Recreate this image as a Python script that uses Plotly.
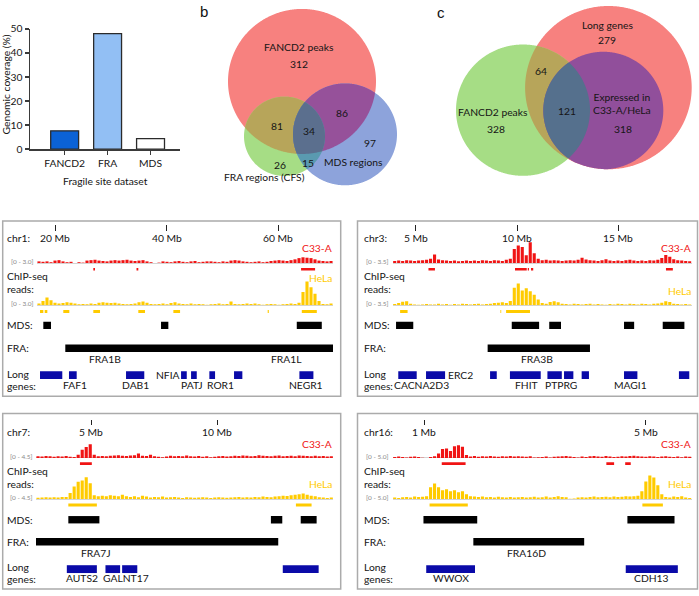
import math
import plotly.graph_objects as go

W, H = 699, 596
FONT = "Lato"
FS = 10.3
TXT = "#151515"

# ======================= DATA =======================
# (a) genomic coverage of fragile site datasets
A_CATEGORIES = ["FANCD2", "FRA", "MDS"]
A_COVERAGE = [7.6, 48.0, 4.3]
A_TICKS = [0, 10, 20, 30, 40, 50]

# (b) Venn: FANCD2 peaks / FRA regions (CFS) / MDS regions
B_SET_NAMES = ["FANCD2 peaks", "FRA regions (CFS)", "MDS regions"]
B_REGIONS = ["F", "F&R", "F&R&M", "F&M", "M", "R", "R&M"]
B_COUNTS = [312, 81, 34, 86, 97, 26, 15]

# (c) Venn: Long genes / FANCD2 peaks / Expressed in C33-A/HeLa
C_SET_NAMES = ["Long genes", "FANCD2 peaks", "Expressed in<br>C33-A/HeLa"]
C_REGIONS = ["L", "L&F", "F", "L&F&E", "L&E"]
C_COUNTS = [279, 64, 328, 121, 318]

# (d) genome browser loci (positions in Mb)
CHR1_RANGE = [16.77, 69.8]
CHR1_TICKS = [20, 40, 60]
CHR1_SCALE = 3.0
CHR1_C33A = [0.2, 0.15, 0.2, 0.1, 0.3, 0.35, 0.2, 0.1, 0.15, 0, 0.1, 0.05, 0.3, 0.35, 0.4, 0.3, 0.25, 0.2, 0.3, 0.35,
             0.3, 0.35, 0.4, 0.3, 0.25, 0.3, 0.35, 0.2, 0.1, 0, 0.05, 0.2, 0.15, 0.1, 0.2, 0.25, 0.15, 0.1, 0.2, 0.25,
             0.1, 0.15, 0.2, 0.2, 0.15, 0.1, 0.2, 0.15, 0.3, 0.35, 0.3, 0.2, 0.15, 0.1, 0.15, 0.2, 0.1, 0.15, 0.25, 0.3,
             0.35, 0.3, 0.25, 0.35, 0.45, 0.6, 0.7, 0.65, 0.6, 0.45, 0.3, 0.25, 0.2, 0.25]
CHR1_HELA = [0.2, 0.5, 0.95, 0.6, 0.3, 0.2, 0.25, 0.35, 0.3, 0.2, 0.1, 0.15, 0.1, 0.2, 0.15, 0.3, 0.35, 0.3, 0.25, 0.3,
             0.2, 0.15, 0.1, 0.15, 0.2, 0.35, 0.45, 0.3, 0.15, 0.1, 0.15, 0.2, 0.1, 0.25, 0.35, 0.2, 0.15, 0.1, 0.2, 0.1,
             0.15, 0.1, 0.05, 0.1, 0.15, 0.2, 0.1, 0.15, 0.45, 0.15, 0.1, 0.15, 0.2, 0.15, 0.2, 0.1, 0.05, 0.1, 0.15, 0.1,
             0.05, 0.1, 0.15, 0.2, 0.15, 0.3, 1.6, 2.9, 2.2, 1.4, 0.5, 0.15, 0.1, 0.2]
CHR1_C33A_PEAKS = [(26.86, 27.16), (34.6, 34.92), (64.08, 66.59)]
CHR1_HELA_PEAKS = [(17.31, 17.9), (18.15, 18.62), (21.48, 22.56), (26.86, 28.06), (34.92, 36.12), (41.2, 42.4),
                   (58.1, 58.3), (64.21, 66.9)]
CHR1_MDS = [(17.9, 19.28), (38.99, 40.3), (63.31, 67.79)]
CHR1_FRA = [(21.84, 69.8)]
CHR1_FRA_LABELS = [("FRA1B", 28.96), ("FRA1L", 61.4)]
CHR1_GENES = [(17.31, 21.3), (22.5, 23.88), (32.72, 35.99), (42.58, 43.6), (44.37, 45.39), (47.65, 48.67),
              (52.07, 53.56), (63.78, 66.29)]
CHR1_GENE_LABELS = [("FAF1", 23.58), ("DAB1", 34.33), ("PATJ", 44.5), ("ROR1", 49.69), ("NEGR1", 64.98)]
CHR1_INLINE_LABELS = [("NFIA", 40.25)]

CHR3_RANGE = [3.865, 18.62]
CHR3_TICKS = [5, 10, 15]
CHR3_SCALE = 3.5
CHR3_C33A = [0.3, 0.35, 0.3, 0.4, 0.35, 0.3, 0.35, 0.4, 0.45, 0.6, 1.2, 0.5, 0.4, 0.35, 0.3, 0.35, 0.25, 0.3, 0.35, 0.3,
             0.35, 0.3, 0.4, 0.35, 0.3, 0.4, 0.35, 0.3, 0.45, 0.6, 2.0, 2.5, 2.3, 1.1, 2.95, 1.4, 0.6, 0.4, 0.45, 0.35,
             0.4, 0.35, 0.3, 0.35, 0.4, 0.35, 0.45, 0.75, 0.5, 0.4, 0.35, 0.3, 0.4, 0.55, 0.35, 0.3, 0.35, 0.3, 0.4, 0.45,
             0.35, 0.3, 0.35, 0.3, 0.4, 0.35, 0.45, 0.7, 1.15, 0.9, 0.55, 0.4, 0.35, 0.3, 0.25]
CHR3_HELA = [0.15, 0.3, 0.5, 0.55, 0.2, 0.1, 0.05, 0.1, 0.15, 0.1, 0.1, 0.2, 0.1, 0.15, 0.05, 0.15, 0.1, 0.2, 0.15, 0.1,
             0.15, 0.2, 0.1, 0.15, 0.2, 0.3, 0.35, 0.4, 0.3, 0.6, 2.5, 3.1, 2.1, 2.4, 2.0, 1.5, 0.8, 0.3, 0.2, 0.45,
             0.55, 0.4, 0.2, 0.15, 0.1, 0.2, 0.15, 0.1, 0.15, 0.2, 0.1, 0.15, 0.1, 0.05, 0.15, 0.1, 0.2, 0.15, 0.1, 0.2,
             0.15, 0.1, 0.2, 0.15, 0.1, 0.2, 0.25, 0.35, 0.55, 0.45, 0.2, 0.15, 0.1, 0.15, 0.1]
CHR3_C33A_PEAKS = [(5.63, 5.95), (9.9, 10.48), (10.53, 10.59), (10.69, 10.8), (17.35, 17.69)]
CHR3_HELA_PEAKS = [(4.23, 4.6), (9.18, 9.22), (9.46, 10.64)]
CHR3_MDS = [(4.03, 4.88), (9.74, 11.09), (11.59, 12.17), (15.28, 15.78), (17.19, 18.26)]
CHR3_FRA = [(8.55, 13.6)]
CHR3_FRA_LABELS = [("FRA3B", 10.97)]
CHR3_GENES = [(4.14, 5.05), (5.51, 6.45), (8.67, 9.0), (9.65, 11.17), (11.5, 12.21), (12.32, 12.78), (13.19, 13.55),
              (15.28, 15.94), (17.99, 18.5)]
CHR3_GENE_LABELS = [("CACNA2D3", 5.31), ("FHIT", 10.48), ("PTPRG", 12.19), ("MAGI1", 15.59)]
CHR3_INLINE_LABELS = [("ERC2", 7.2)]

CHR7_RANGE = [2.82, 14.59]
CHR7_TICKS = [5, 10]
CHR7_SCALE = 4.5
CHR7_C33A = [0.3, 0.25, 0.35, 0.3, 0.2, 0.3, 0.25, 0.35, 0.2, 0.15, 0.6, 1.5, 2.0, 2.5, 0.6,
             0.3, 0.35, 0.3, 0.4, 0.45, 0.5, 0.4, 0.35, 0.45, 0.5, 0.8, 0.4, 0.35, 0.6, 0.3, 0.2, 0.1, 0.25, 0.4, 0.3,
             0.35, 0.3, 0.45, 0.3, 0.25, 0.35, 0.2, 0.3, 0.1, 0.2, 0.3, 0.35, 0.25, 0.3, 0.4, 0.35, 0.45, 0.4, 0.3, 0.35,
             0.5, 0.4, 0.35, 0.3, 0.4, 0.45, 0.3, 0.35, 0.4, 0.3, 0.45, 0.4, 0.35, 0.3, 0.4, 0.3, 0.35, 0.25, 0.3]
CHR7_HELA = [0.25, 0.3, 0.35, 0.3, 0.35, 0.3, 0.4, 0.4, 1.1, 2.3, 3.2, 3.4, 4.0, 2.9, 0.7,
             0.5, 0.6, 0.5, 0.7, 0.6, 0.5, 0.8, 0.5, 0.4, 0.5, 0.35, 0.6, 0.45, 0.3, 0.4, 0.35, 0.45, 0.3, 0.35, 0.4,
             0.3, 0.2, 0.35, 0.3, 0.25, 0.3, 0.35, 0.3, 0.2, 0.3, 0.35, 0.3, 0.25, 0.3, 0.35, 0.4, 0.3, 0.35, 0.3, 0.4,
             0.35, 0.45, 0.4, 0.35, 0.45, 0.5, 0.6, 0.55, 0.7, 0.8, 0.9, 1.0, 0.8, 0.6, 0.5, 0.35, 0.3, 0.2, 0.3]
CHR7_C33A_PEAKS = [(4.56, 5.03)]
CHR7_HELA_PEAKS = [(4.1, 5.23), (13.11, 13.73)]
CHR7_MDS = [(4.1, 5.33), (12.12, 12.57), (13.3, 13.93)]
CHR7_FRA = [(2.82, 12.41)]
CHR7_FRA_LABELS = [("FRA7J", 5.19)]
CHR7_GENES = [(4.04, 5.23), (5.57, 6.15), (6.23, 6.83), (12.59, 14.01)]
CHR7_GENE_LABELS = [("AUTS2", 4.63), ("GALNT17", 6.37)]
CHR7_INLINE_LABELS = []

CHR16_RANGE = [0.435, 5.83]
CHR16_TICKS = [1, 5]
CHR16_SCALE = 5.0
CHR16_C33A = [0.2, 0.3, 0.2, 0.1, 0.25, 0.3, 0.2, 0.05, 0, 0.2, 0.35, 0.9, 1.8, 1.9, 1.4, 2.4, 2.6, 2.3, 0.6,
              0.3, 0.4, 0.25, 0.35, 0.3, 0.4, 0.3, 0.25, 0.35, 0.3, 0.4, 0.3, 0.35, 0.3, 0.25, 0.35, 0.1, 0.15,
              0.2, 0.3, 0.1, 0.25, 0.3, 0.35, 0.4, 0.3, 0.2, 0.1, 0.3, 0.2, 0.35, 0.4, 0.3, 0.25, 0.4, 0.3, 0.2, 0.25,
              0.35, 0.3, 0.4, 0.45, 0.35, 0.3, 0.25, 0.35, 0.3, 0.2, 0.3, 0.35, 0.25, 0.2, 0.3, 0.15, 0.3, 0.25]
CHR16_HELA = [0.3, 0.2, 0.35, 0.4, 0.3, 0.5, 0.4, 0.45, 0.6, 2.4, 3.2, 2.4, 1.8, 2.0, 1.6, 1.8, 1.4, 1.6, 1.0, 0.6,
              0.5, 0.4, 0.5, 0.35, 0.4, 0.3, 0.45, 0.35, 0.3, 0.4, 0.3, 0.35, 0.4, 0.3, 0.35, 0.45, 0.3, 0.35, 0.5, 0.3,
              0.4, 0.6, 0.4, 0.35, 0.05, 0.1, 0.3, 0.35, 0.3, 0.4, 0.5, 0.35, 0.4, 0.45, 0.35, 0.5, 0.4, 0.45, 0.6, 0.5,
              0.55, 0.7, 1.6, 3.6, 4.8, 4.4, 2.8, 1.0, 0.4, 0.3, 0.5, 0.4, 0.6, 0.3, 0.2]
CHR16_C33A_PEAKS = [(1.32, 1.75), (4.29, 4.43), (4.63, 4.73)]
CHR16_HELA_PEAKS = [(1.1, 1.79), (4.94, 5.31)]
CHR16_MDS = [(0.99, 1.96), (4.67, 5.52)]
CHR16_FRA = [(1.89, 3.89)]
CHR16_FRA_LABELS = [("FRA16D", 2.85)]
CHR16_GENES = [(1.04, 1.92), (4.64, 5.58)]
CHR16_GENE_LABELS = [("WWOX", 1.48), ("CDH13", 5.11)]
CHR16_INLINE_LABELS = []

LOCI = [
    dict(chrom="chr1:", rng=CHR1_RANGE, ticks=CHR1_TICKS, scale=CHR1_SCALE, c33=CHR1_C33A, hela=CHR1_HELA,
         red=CHR1_C33A_PEAKS, yel=CHR1_HELA_PEAKS, mds=CHR1_MDS, fra=CHR1_FRA, fra_labels=CHR1_FRA_LABELS,
         genes=CHR1_GENES, gene_labels=CHR1_GENE_LABELS, inline=CHR1_INLINE_LABELS),
    dict(chrom="chr3:", rng=CHR3_RANGE, ticks=CHR3_TICKS, scale=CHR3_SCALE, c33=CHR3_C33A, hela=CHR3_HELA,
         red=CHR3_C33A_PEAKS, yel=CHR3_HELA_PEAKS, mds=CHR3_MDS, fra=CHR3_FRA, fra_labels=CHR3_FRA_LABELS,
         genes=CHR3_GENES, gene_labels=CHR3_GENE_LABELS, inline=CHR3_INLINE_LABELS),
    dict(chrom="chr7:", rng=CHR7_RANGE, ticks=CHR7_TICKS, scale=CHR7_SCALE, c33=CHR7_C33A, hela=CHR7_HELA,
         red=CHR7_C33A_PEAKS, yel=CHR7_HELA_PEAKS, mds=CHR7_MDS, fra=CHR7_FRA, fra_labels=CHR7_FRA_LABELS,
         genes=CHR7_GENES, gene_labels=CHR7_GENE_LABELS, inline=CHR7_INLINE_LABELS),
    dict(chrom="chr16:", rng=CHR16_RANGE, ticks=CHR16_TICKS, scale=CHR16_SCALE, c33=CHR16_C33A, hela=CHR16_HELA,
         red=CHR16_C33A_PEAKS, yel=CHR16_HELA_PEAKS, mds=CHR16_MDS, fra=CHR16_FRA, fra_labels=CHR16_FRA_LABELS,
         genes=CHR16_GENES, gene_labels=CHR16_GENE_LABELS, inline=CHR16_INLINE_LABELS),
]

# ======================= LAYOUT / STYLE =======================
A_COLORS = ["#0B62D6", "#92BFF4", "#FFFFFF"]
RED_V, GREEN_V, BLUE_V = "#F7817F", "#A6DD85", "#8DA3DB"
RG_V, RB_V, GB_V, RGB_V = "#B7A55A", "#96519A", "#5A9AB0", "#5B6F8E"
C_PURPLE, C_SLATE = "#914F9B", "#55708D"
TRACK_RED, TRACK_YEL, GENE_BLUE = "#F01414", "#FFCB00", "#0A0AA8"

TOP_ROWS = dict(tick=2.7, ticklen=6, ticklabel=17.4, c33=27.4, red_base=43.0, red_bar=49.4, chip=56.7, reads=70,
                yel_base=86.0, yel_bar=92.4, mds=106.7, fra=130.0, fra_label=141.4, long=156.4, gene_bar=157.4,
                genes=169.0, gene_label=167.7)
BOT_ROWS = dict(tick=5.7, ticklen=5, ticklabel=18.3, c33=31.0, red_base=45.2, red_bar=51.0, chip=58.3, reads=71.7,
                yel_base=87.2, yel_bar=93.3, mds=108.3, fra=130.7, fra_label=142.3, long=156.3, gene_bar=158.7,
                genes=168.3, gene_label=167.3)
BOXES = [
    dict(x0=2.7, x1=340.7, y0=219.3, y1=398.3, tx0=37.0, tx1=333.0, text_x=4.5, rows=TOP_ROWS, hela_y=58.4),
    dict(x0=357.5, x1=697.5, y0=219.3, y1=398.3, tx0=392.7, tx1=691.7, text_x=362.0, rows=TOP_ROWS, hela_y=71.7),
    dict(x0=2.7, x1=340.7, y0=416.0, y1=595.0, tx0=36.0, tx1=333.3, text_x=4.5, rows=BOT_ROWS, hela_y=71.7),
    dict(x0=357.5, x1=697.5, y0=416.0, y1=595.0, tx0=392.7, tx1=691.7, text_x=362.0, rows=BOT_ROWS, hela_y=71.7),
]
TRACK_H = 25.0


def px2x(px):
    return px / W


def py2y(py):
    return 1 - py / H


fig = go.Figure()
annotations = []
shapes = []
layout = dict(width=W, height=H, margin=dict(l=0, r=0, t=0, b=0, pad=0), autosize=False, paper_bgcolor="white",
              plot_bgcolor="rgba(0,0,0,0)", showlegend=False, barmode="overlay", hovermode=False,
              font=dict(family=FONT, size=FS, color=TXT))


def hidden_axis(**kw):
    d = dict(visible=False, showgrid=False, zeroline=False, fixedrange=True)
    d.update(kw)
    return d


def txt(x, y, s, size=FS, color=TXT, xanchor="center", xref="x", yref="y", family=FONT, angle=0):
    annotations.append(dict(x=x, y=y, text=s, showarrow=False, xanchor=xanchor, yanchor="middle", xref=xref,
                            yref=yref, textangle=angle, font=dict(family=family, size=size, color=color)))


# overlay pixel axis (whole figure)
layout["xaxis"] = hidden_axis(domain=[0, 1], range=[0, W])
layout["yaxis"] = hidden_axis(domain=[0, 1], range=[H, 0])
fig.add_trace(go.Scatter(x=[0], y=[0], mode="markers", marker=dict(opacity=0), xaxis="x", yaxis="y",
                         hoverinfo="skip"))

# panel letters
for letter, (lx, ly) in zip("abcd", [(-1, 6), (198, 6), (435, 7), (-1, 205)]):
    txt(lx, ly, letter, size=15, xanchor="left", family="Liberation Sans", color="#111")

# ---------------- panel a ----------------
AX_COL = "#3a3a3a"
layout["xaxis2"] = dict(domain=[px2x(30), px2x(180)], range=[-0.807, 2.686], anchor="y2", showline=True,
                        linecolor=AX_COL, linewidth=1.5, ticks="outside", ticklen=4, tickwidth=1.5,
                        tickcolor=AX_COL, showgrid=False, zeroline=False, fixedrange=True,
                        tickfont=dict(family=FONT, size=FS, color=TXT))
layout["yaxis2"] = dict(domain=[py2y(146), py2y(23.3)], range=[0, 50], anchor="x2", tickvals=A_TICKS,
                        showline=True, linecolor=AX_COL, linewidth=1.5, ticks="outside", ticklen=4,
                        tickwidth=1.5, tickcolor=AX_COL, showgrid=False, zeroline=False, fixedrange=True,
                        tickfont=dict(family=FONT, size=FS, color=TXT))
fig.add_trace(go.Bar(x=A_CATEGORIES, y=A_COVERAGE, width=0.65, xaxis="x2", yaxis="y2", hoverinfo="skip",
                     marker=dict(color=A_COLORS, line=dict(color="#2b2b2b", width=1.3))))
txt(105, 179, "Fragile site dataset")
txt(6, 80, "Genomic coverage (%)", angle=-90)


# ---------------- Venn helpers ----------------
def venn_region(circles, n=720):
    pts = []
    for i, (cx, cy, r) in enumerate(circles):
        for k in range(n):
            t = 2 * math.pi * k / n
            x, y = cx + r * math.cos(t), cy + r * math.sin(t)
            if all((x - ox) ** 2 + (y - oy) ** 2 <= orr ** 2 + 1e-6
                   for j, (ox, oy, orr) in enumerate(circles) if j != i):
                pts.append((x, y))
    mx = sum(p[0] for p in pts) / len(pts)
    my = sum(p[1] for p in pts) / len(pts)
    pts.sort(key=lambda p: math.atan2(p[1] - my, p[0] - mx))
    return "M " + " L ".join(f"{x:.2f},{y:.2f}" for x, y in pts) + " Z"


def add_region(circles, color):
    shapes.append(dict(type="path", path=venn_region(circles), xref="x", yref="y", fillcolor=color,
                       line=dict(width=0), layer="below"))


# ---------------- panel b ----------------
B_F = (302, 77, 74)
B_R = (284.5, 133, 40.5)
B_M = (345, 131, 52)
add_region([B_F], RED_V)
add_region([B_R], GREEN_V)
add_region([B_M], BLUE_V)
add_region([B_F, B_R], RG_V)
add_region([B_F, B_M], RB_V)
add_region([B_R, B_M], GB_V)
add_region([B_F, B_R, B_M], RGB_V)
B_POS = {"F": (299, 59.3), "F&R": (276.7, 122.7), "F&R&M": (309, 127.7), "F&M": (342.3, 109.3),
         "M": (370, 139.3), "R": (280, 162.3), "R&M": (308.3, 160)}
for reg, cnt in zip(B_REGIONS, B_COUNTS):
    txt(*B_POS[reg], str(cnt))
for name, pos in zip(B_SET_NAMES, [(299, 41.7), (264, 175), (353.3, 159.3)]):
    txt(*pos, name)

# ---------------- panel c ----------------
C_L = (608.4, 83.3, 83.3)
C_F = (523, 106.3, 67)
C_E = (603.3, 106.7, 60)
add_region([C_L], RED_V)
add_region([C_F], GREEN_V)
add_region([C_L, C_F], RG_V)
add_region([C_E, C_L], C_PURPLE)
add_region([C_E, C_F], C_SLATE)
C_POS = {"L": (606.7, 35), "L&F": (540.7, 66), "F": (496, 126), "L&F&E": (566.7, 106.7), "L&E": (622.7, 126)}
for reg, cnt in zip(C_REGIONS, C_COUNTS):
    txt(*C_POS[reg], str(cnt))
txt(607.3, 19, C_SET_NAMES[0])
txt(492.5, 108.3, C_SET_NAMES[1])
txt(622.3, 100, C_SET_NAMES[2])


# ---------------- panel d ----------------
def add_intervals(ivs, row, thick, color, xa, ya):
    if not ivs:
        return
    fig.add_trace(go.Bar(orientation="h", base=[a for a, b in ivs], x=[b - a for a, b in ivs],
                         y=[row] * len(ivs), width=thick, marker=dict(color=color, line=dict(width=0)),
                         xaxis=xa, yaxis=ya, hoverinfo="skip"))


def add_signal(values, rng, color, xa, ya):
    n = len(values)
    bw = (rng[1] - rng[0]) / n
    centers = [rng[0] + bw * (i + 0.5) for i in range(n)]
    fig.add_trace(go.Bar(x=centers, y=values, width=bw * 0.78, marker=dict(color=color, line=dict(width=0)),
                         xaxis=xa, yaxis=ya, hoverinfo="skip"))


for bi, (box, L) in enumerate(zip(BOXES, LOCI)):
    n = 3 + bi
    xa, ya = f"x{n}", f"y{n}"
    yr, yy = 7 + 2 * bi, 8 + 2 * bi
    R = box["rows"]
    top = box["y0"]
    bh = box["y1"] - box["y0"]
    layout[f"xaxis{n}"] = dict(domain=[px2x(box["tx0"]), px2x(box["tx1"])], range=L["rng"], anchor="free",
                               position=py2y(top + R["tick"]), side="bottom", showline=False, showgrid=False,
                               zeroline=False, ticks="outside", ticklen=R["ticklen"], tickwidth=1,
                               tickcolor="#222", tickvals=L["ticks"], showticklabels=False, fixedrange=True)
    layout[f"yaxis{n}"] = hidden_axis(domain=[py2y(box["y1"]), py2y(top)], range=[bh, 0], anchor=xa)
    for yid, base in ((yr, R["red_base"]), (yy, R["yel_base"])):
        layout[f"yaxis{yid}"] = dict(domain=[py2y(top + base), py2y(top + base - TRACK_H)],
                                     range=[0, L["scale"]], anchor=xa, showgrid=False, showline=False,
                                     showticklabels=False, ticks="", zeroline=True, zerolinecolor="#d4d4d4",
                                     zerolinewidth=1, fixedrange=True)
    shapes.append(dict(type="rect", xref="paper", yref="paper", x0=px2x(box["x0"]), x1=px2x(box["x1"]),
                       y0=py2y(box["y1"]), y1=py2y(box["y0"]), line=dict(color="#ABABAB", width=1.5),
                       fillcolor="rgba(0,0,0,0)", layer="below"))

    add_signal(L["c33"], L["rng"], TRACK_RED, xa, f"y{yr}")
    add_signal(L["hela"], L["rng"], TRACK_YEL, xa, f"y{yy}")
    add_intervals(L["red"], R["red_bar"], 2.7, TRACK_RED, xa, ya)
    add_intervals(L["yel"], R["yel_bar"], 3.0, TRACK_YEL, xa, ya)
    add_intervals(L["mds"], R["mds"], 7.5, "#000000", xa, ya)
    add_intervals(L["fra"], R["fra"], 7.7, "#000000", xa, ya)
    add_intervals(L["genes"], R["gene_bar"], 8.0, GENE_BLUE, xa, ya)

    # text
    tx = box["text_x"]
    txt(tx, top + R["ticklabel"], L["chrom"], xanchor="left")
    for t in L["ticks"]:
        txt(t, py2y(top + R["ticklabel"]), f"{t} Mb", xref=xa, yref="paper")
    txt(box["tx1"] + 1, top + R["c33"], "C33-A", color=TRACK_RED, xanchor="right")
    txt(box["tx1"] + 1, top + box["hela_y"], "HeLa", color=TRACK_YEL, xanchor="right")
    scale_lbl = f"[0 - {L['scale']:.1f}]"
    txt(box["tx0"] - 1.5, top + R["red_base"] - 1.5, scale_lbl, size=6.5, color="#8a8a8a", xanchor="right")
    txt(box["tx0"] - 1.5, top + R["yel_base"] - 1.5, scale_lbl, size=6.5, color="#8a8a8a", xanchor="right")
    txt(tx, top + R["chip"], "ChIP-seq", xanchor="left")
    txt(tx, top + R["reads"], "reads:", xanchor="left")
    txt(tx, top + R["mds"], "MDS:", xanchor="left")
    txt(tx, top + R["fra"], "FRA:", xanchor="left")
    txt(tx, top + R["long"], "Long", xanchor="left")
    txt(tx, top + R["genes"], "genes:", xanchor="left")
    for name, pos in L["fra_labels"]:
        txt(pos, py2y(top + R["fra_label"]), name, xref=xa, yref="paper")
    for name, pos in L["gene_labels"]:
        txt(pos, py2y(top + R["gene_label"]), name, xref=xa, yref="paper")
    for name, pos in L["inline"]:
        txt(pos, py2y(top + R["gene_bar"]), name, xref=xa, yref="paper")

layout["annotations"] = annotations
layout["shapes"] = shapes
fig.update_layout(**layout)
fig.write_html("out.html", config={"displayModeBar": False, "staticPlot": True},
               post_script="document.body.style.margin='0';document.body.style.overflow='hidden';")
